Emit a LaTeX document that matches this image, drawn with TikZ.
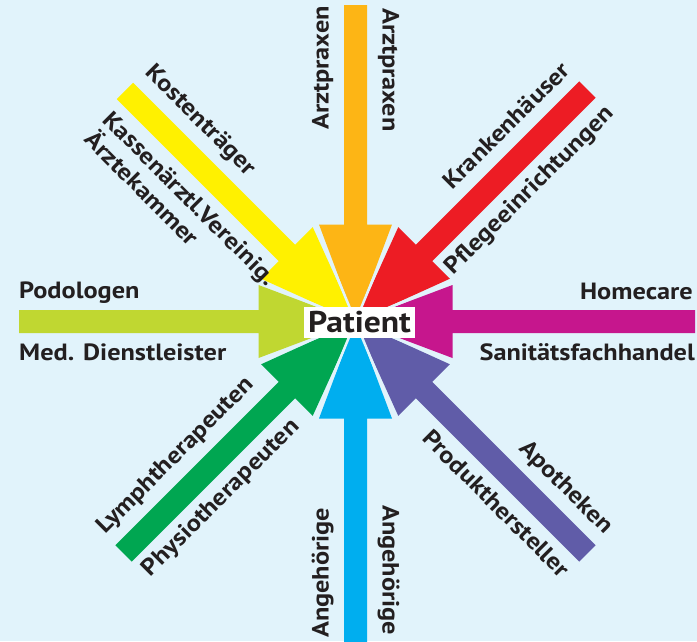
\documentclass[tikz,border=0pt]{standalone}
\usepackage{fontspec}
\setmainfont{PT Sans}[FakeStretch=1.12]
\definecolor{bgc}{HTML}{E1F3FB}
\definecolor{corange}{HTML}{FDB515}
\definecolor{cred}{HTML}{ED1C24}
\definecolor{cmag}{HTML}{C6168D}
\definecolor{cpur}{HTML}{605CA8}
\definecolor{cblue}{HTML}{00AEEF}
\definecolor{cgreen}{HTML}{00A651}
\definecolor{clime}{HTML}{C0D731}
\definecolor{cyel}{HTML}{FFF100}
\definecolor{txt}{HTML}{231F20}
\begin{document}
\begin{tikzpicture}[x=1pt,y=1pt,
  lbl/.style={font=\fontsize{23.5}{27}\selectfont\bfseries, text=txt, inner sep=0pt, transform shape},
  gapline/.style={bgc, line width=2.5pt}]
\useasboundingbox (0,0) rectangle (697,-641);
\clip (0,0) rectangle (697,-641);
\fill[bgc] (0,0) rectangle (697,-641);
\coordinate (C) at (355.5,-321.5);
% arrow bodies
\newcommand\arrbody[3]{%
  \begin{scope}[shift={(C)},rotate=#1]
    \fill[#3] (0,0) -- (97,36.5) -- (97,11.5) -- (#2,11.5) -- (#2,-11.5) -- (97,-11.5) -- (97,-36.5) -- cycle;
  \end{scope}}
\arrbody{90}{316.5}{corange}
\arrbody{45}{328}{cred}
\arrbody{0}{339.5}{cmag}
\arrbody{-45}{328}{cpur}
\arrbody{-90}{340}{cblue}
\arrbody{-135}{328}{cgreen}
\arrbody{180}{336.5}{clime}
\arrbody{135}{326}{cyel}
% gaps between heads
\foreach \a in {22.5,67.5,...,337.5} \draw[gapline] (C) -- ++(\a:105);
% labels
\begin{scope}[shift={(C)},rotate=90]
  \node[lbl,anchor=base east] (arztL) at (315.5,27) {Arztpraxen};
  \node[lbl,anchor=base west,rotate=180] (arztR) at (313.5,-27) {Arztpraxen};
\end{scope}
\begin{scope}[shift={(C)},rotate=45]
  \node[lbl,anchor=base east] (kranken) at (329,24) {Krankenhäuser};
  \node[lbl,anchor=base east] (pflege) at (330,-37) {Pflegeeinrichtungen};
\end{scope}
\begin{scope}[shift={(C)},rotate=0]
  \node[lbl,anchor=base east] (homecare) at (337.5,22.5) {Homecare};
  \node[lbl,anchor=base east] (sanitaet) at (339.5,-39) {Sanitätsfachhandel};
\end{scope}
\begin{scope}[shift={(C)},rotate=-45]
  \node[lbl,anchor=base east] (apotheken) at (327,25) {Apotheken};
  \node[lbl,anchor=base east] (produkt) at (327,-37) {Produkthersteller};
\end{scope}
\begin{scope}[shift={(C)},rotate=-90]
  \node[lbl,anchor=base west] (angehR) at (183.5,27) {Angehörige};
  \node[lbl,anchor=base west,rotate=180] (angehL) at (316.5,-27) {Angehörige};
\end{scope}
\begin{scope}[shift={(C)},rotate=-135]
  \node[lbl,anchor=base west,rotate=180] (lymph) at (328,-26) {Lymphtherapeuten};
  \node[lbl,anchor=base west,rotate=180] (physio) at (326,36) {Physiotherapeuten};
\end{scope}
\begin{scope}[shift={(C)},rotate=180]
  \node[lbl,anchor=base west,rotate=180] (podo) at (336.5,-23) {Podologen};
  \node[lbl,anchor=base west,rotate=180] (med) at (336.5,39) {Med. Dienstleister};
\end{scope}
\begin{scope}[shift={(C)},rotate=135]
  \node[lbl,anchor=base west,rotate=180] (kosten) at (324.5,-26) {Kostenträger};
  \node[lbl,anchor=base west,rotate=180] (kassen) at (321,38) {Kassenärztl.Vereinig.};
  \node[lbl,anchor=base west,rotate=180] (aerzte) at (320.5,65) {Ärztekammer};
\end{scope}
% centre
\node[fill=white, minimum width=111pt, minimum height=31pt, inner sep=0pt,
  font=\fontsize{30}{30}\selectfont\bfseries, text=txt] (patient) at (359.5,-322.5) {Patient};
\end{tikzpicture}
\end{document}
